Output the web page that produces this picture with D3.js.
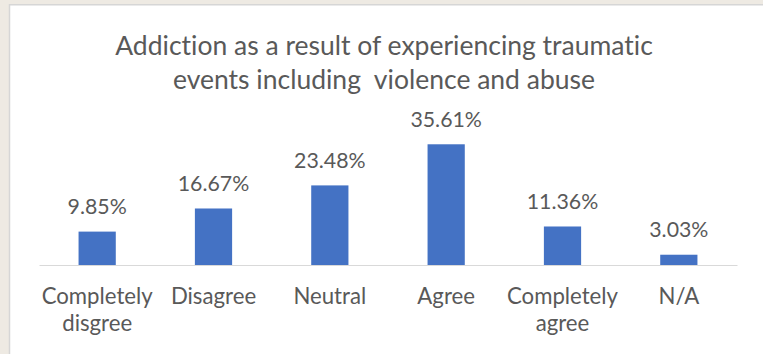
<!DOCTYPE html>
<html>
<head>
<meta charset="utf-8">
<script src="https://cdn.jsdelivr.net/npm/d3@7"></script>
<style>
  html, body { margin: 0; padding: 0; background: #eeeae3; }
  svg { display: block; }
  text { font-family: Lato, "Open Sans", sans-serif; fill: #595959; font-variant-ligatures: none; }
</style>
</head>
<body>
<svg id="chart" width="763" height="354"></svg>
<script>
// Survey responses (percent of respondents)
const titleLines = [
  "Addiction as a result of experiencing traumatic",
  "events including  violence and abuse"
];
const categories = ["Completely disgree", "Disagree", "Neutral", "Agree", "Completely agree", "N/A"];
const values = [9.85, 16.67, 23.48, 35.61, 11.36, 3.03];
const valueLabels = ["9.85%", "16.67%", "23.48%", "35.61%", "11.36%", "3.03%"];

const svg = d3.select("#chart");
const W = 763, H = 354;

// chart card
svg.append("rect")
  .attr("x", 9.5).attr("y", 4.75)
  .attr("width", W).attr("height", H)
  .attr("fill", "#ffffff")
  .attr("stroke", "#d6d6d6")
  .attr("stroke-width", 1.5);

// title
svg.append("text")
  .attr("text-anchor", "middle")
  .attr("font-size", 26.5)
  .attr("xml:space", "preserve")
  .style("white-space", "pre")
  .selectAll("tspan")
  .data(titleLines)
  .join("tspan")
  .attr("x", 384)
  .attr("y", (d, i) => 54.5 + i * 34)
  .text(d => d);

const baseline = 265;
const x = d3.scaleBand()
  .domain(categories)
  .range([39, 737])
  .paddingInner(0.68)
  .paddingOuter(0.34);

const y = d3.scaleLinear()
  .domain([0, 40])
  .range([baseline, 129.4]);

// bars
svg.append("g")
  .selectAll("rect")
  .data(values)
  .join("rect")
  .attr("x", (d, i) => x(categories[i]))
  .attr("y", d => y(d))
  .attr("width", x.bandwidth())
  .attr("height", d => y(0) - y(d))
  .attr("fill", "#4472c4");

// value labels
svg.append("g")
  .selectAll("text")
  .data(values)
  .join("text")
  .attr("text-anchor", "middle")
  .attr("font-size", 21.3)
  .attr("x", (d, i) => x(categories[i]) + x.bandwidth() / 2)
  .attr("y", d => y(d) - 17.5)
  .text((d, i) => valueLabels[i]);

// category axis
const axis = svg.append("g")
  .attr("transform", `translate(0,${baseline})`)
  .call(d3.axisBottom(x).tickSize(0).tickFormat(""));
axis.select(".domain").attr("stroke", "#d9d9d9").attr("stroke-width", 1.2);

const catLabels = svg.append("g")
  .selectAll("text")
  .data(categories)
  .join("text")
  .attr("text-anchor", "middle")
  .attr("font-size", 22.2);
catLabels.each(function (d) {
  const cx = x(d) + x.bandwidth() / 2;
  d3.select(this).selectAll("tspan")
    .data(d.split(" "))
    .join("tspan")
    .attr("x", cx)
    .attr("y", (w, i) => 304 + i * 27)
    .text(w => w);
});
</script>
</body>
</html>
